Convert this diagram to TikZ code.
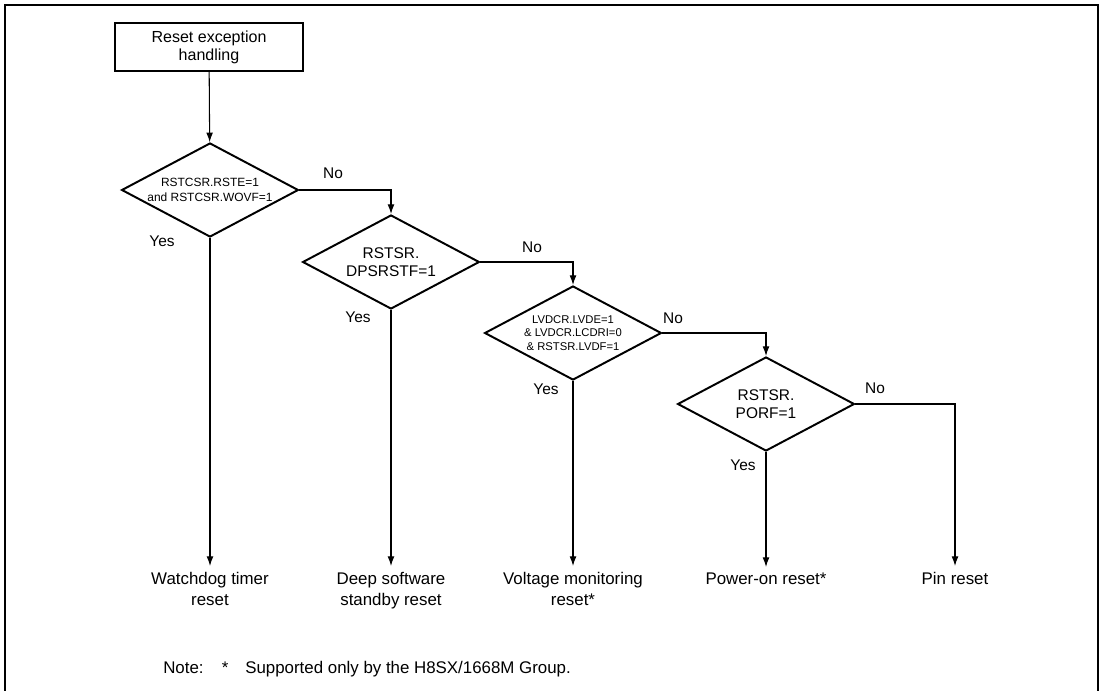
\documentclass[tikz,border=0pt]{standalone}
\usepackage{fontspec}
\setmainfont{Liberation Sans}
\usetikzlibrary{arrows.meta,positioning,shapes.geometric}

\begin{document}
\begin{tikzpicture}[
        x=0.025cm, y=-0.025cm,
        startbox/.style={rectangle, draw, line width=1.4pt, minimum width=4.7cm,
            minimum height=1.2cm, align=center, font=\fontsize{11.4}{13}\selectfont},
        decision/.style={diamond, draw, line width=1.4pt, aspect=1.9, inner sep=0pt,
            minimum width=4.42cm, minimum height=2.35cm, align=center},
        result/.style={anchor=north, inner xsep=1pt, inner ysep=4pt, align=center,
            font=\fontsize{12}{15}\selectfont},
        answer/.style={font=\fontsize{11}{13}\selectfont, inner sep=0pt},
        flow/.style={line width=0.75pt, -{Latex[length=2.4mm,width=1.7mm]}},
    ]
        \useasboundingbox (0,0) rectangle (1102,690);
        % Frame
        \draw[line width=1.4pt] (5,700) -- (5,5) -- (1098,5) -- (1098,700);

        % Start
        \node[startbox] (start) at (209,47) {Reset exception\\handling};

        % Decisions
        \node[decision, font=\fontsize{8.5}{10.6}\selectfont] (chkwdt) at (210,190)
            {RSTCSR.RSTE=1\\and RSTCSR.WOVF=1};
        \node[decision, font=\fontsize{11}{13}\selectfont] (chkdps) at (391,262)
            {RSTSR.\\DPSRSTF=1};
        \node[decision, font=\fontsize{8}{9.8}\selectfont] (chklvd) at (573,333)
            {LVDCR.LVDE=1\\\& LVDCR.LCDRI=0\\\& RSTSR.LVDF=1};
        \node[decision, font=\fontsize{11}{12.5}\selectfont] (chkporf) at (766,404)
            {RSTSR.\\PORF=1};

        % Results
        \node[result] (wdtrst) at (210,566) {Watchdog timer\\reset};
        \node[result] (dpsrst) at (391,566) {Deep software\\standby reset};
        \node[result] (lvdrst) at (573,566) {Voltage monitoring\\reset*};
        \node[result] (porrst) at (766,567) {Power-on reset*};
        \node[result] (pinrst) at (955,566) {Pin reset};

        % Yes / No labels
        \node[answer] (no1) at (333,173) {No};
        \node[answer] (no2) at (532,247) {No};
        \node[answer] (no3) at (673,318) {No};
        \node[answer] (no4) at (875,388) {No};
        \node[answer] (yes1) at (162,241) {Yes};
        \node[answer] (yes2) at (358,317) {Yes};
        \node[answer] (yes3) at (546,389) {Yes};
        \node[answer] (yes4) at (743,465) {Yes};

        % Links
        \draw[flow] (start) -- (chkwdt);
        \draw[flow] (chkwdt.east) -| (chkdps.north);
        \draw[flow] (chkdps.east) -| (chklvd.north);
        \draw[flow] (chklvd.east) -| (chkporf.north);
        \draw[flow] (chkporf.east) -| (pinrst.north);
        \draw[flow] (chkwdt.south) -- (wdtrst.north);
        \draw[flow] (chkdps.south) -- (dpsrst.north);
        \draw[flow] (chklvd.south) -- (lvdrst.north);
        \draw[flow] (chkporf.south) -- (porrst.north);

        % Note
        \node[anchor=west, inner sep=0pt, font=\fontsize{12}{14}\selectfont] (note) at (163,669)
            {Note:\hspace{13pt}*\hspace{12pt}Supported only by the H8SX/1668M Group.};
    \end{tikzpicture}
\end{document}
